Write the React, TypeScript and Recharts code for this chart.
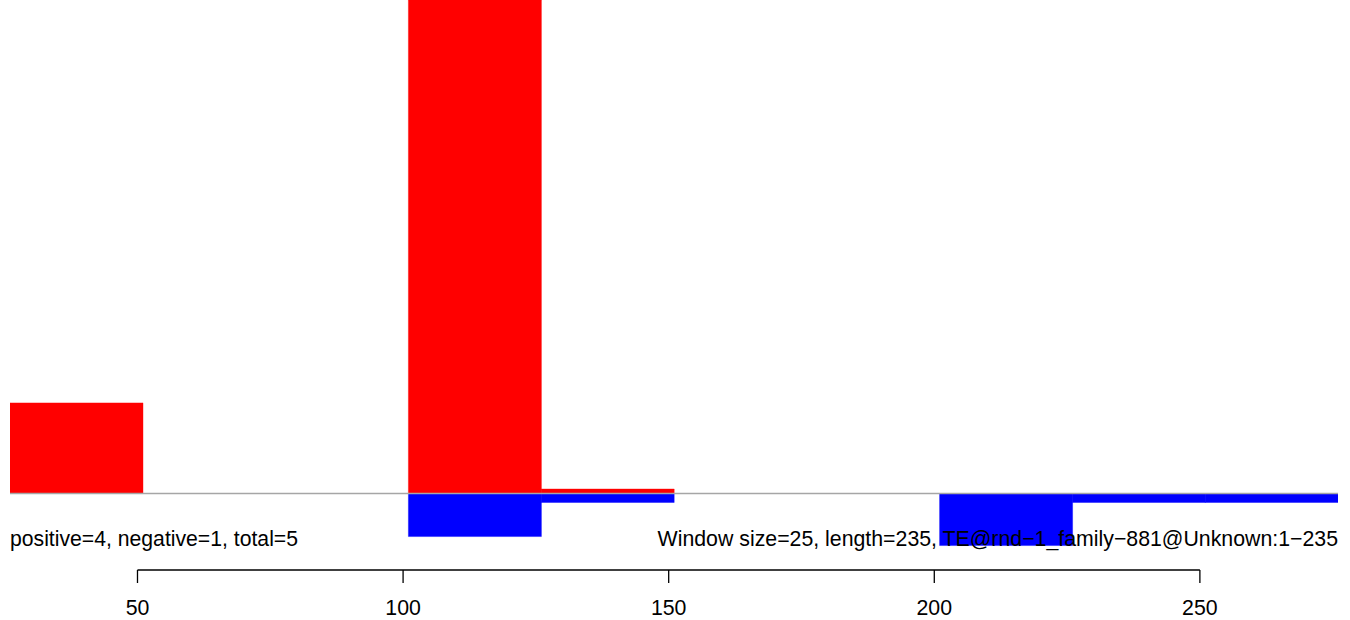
import React from 'react';
import {
  ComposedChart,
  Bar,
  XAxis,
  YAxis,
  ReferenceLine,
} from 'recharts';

// window starts (window size 25)
const binStart = [26, 51, 76, 101, 126, 151, 176, 201, 226, 251];
const positive = [20.2, 0, 0, 110, 1, 0, 0, 0, 0, 0];
const negative = [0, 0, 0, -9.6, -2, 0, 0, -11.6, -2, -2];
const xTicks = [50, 100, 150, 200, 250];

const leftNote = 'positive=4, negative=1, total=5';
const rightNote =
  'Window size=25, length=235, TE@rnd\u22121_family\u2212881@Unknown:1\u2212235';

const windowSize = 25;
const xMin = 26;
const xMax = 276;
const yMax = 110;
const yMin = -17.05;

const font = '"Liberation Sans", Arial, Helvetica, sans-serif';

const data = binStart.map((s, i) => ({
  mid: s + windowSize / 2,
  pos: positive[i],
  neg: negative[i],
}));

export default function App() {
  return (
    <div style={{ position: 'absolute', left: 0, top: 0, width: 1350, height: 620 }}>
      <ComposedChart
        width={1350}
        height={620}
        data={data}
        stackOffset="sign"
        barCategoryGap={0}
        barGap={0}
        margin={{ top: 0, right: 12, bottom: 0, left: 10 }}
        style={{ fontFamily: font }}
      >
        <XAxis
          dataKey="mid"
          type="number"
          domain={[xMin, xMax]}
          ticks={xTicks}
          allowDataOverflow
          height={50}
          axisLine={false}
          tickSize={13}
          tickMargin={17}
          tickLine={{ stroke: '#000', strokeWidth: 1.3 }}
          tick={{ fill: '#000', fontSize: 21.3, fontFamily: font }}
        />
        <YAxis hide domain={[yMin, yMax]} allowDataOverflow />
        <ReferenceLine y={0} stroke="#a6a6a6" strokeWidth={1.5} />
        <ReferenceLine
          segment={[
            { x: xTicks[0], y: yMin },
            { x: xTicks[xTicks.length - 1], y: yMin },
          ]}
          stroke="#000"
          strokeWidth={1.3}
          ifOverflow="visible"
        />
        <Bar
          dataKey="pos"
          stackId="a"
          fill="#ff0000"
          stroke="#ff0000"
          strokeWidth={0.4}
          isAnimationActive={false}
        />
        <Bar
          dataKey="neg"
          stackId="a"
          fill="#0000ff"
          stroke="#0000ff"
          strokeWidth={0.4}
          isAnimationActive={false}
        />
      </ComposedChart>
      <svg
        width={1350}
        height={620}
        style={{ position: 'absolute', left: 0, top: 0, pointerEvents: 'none' }}
      >
        <text x={10} y={546} fontSize={21.2} fontFamily={font} fill="#000">
          {leftNote}
        </text>
        <text
          x={1338}
          y={546}
          fontSize={21.3}
          fontFamily={font}
          fill="#000"
          textAnchor="end"
        >
          {rightNote}
        </text>
      </svg>
    </div>
  );
}
